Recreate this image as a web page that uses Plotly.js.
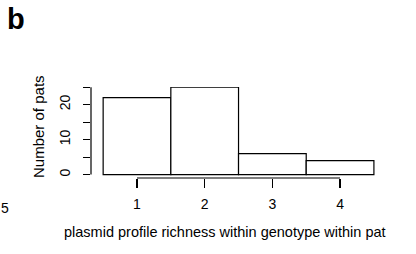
<!DOCTYPE html>
<html>
<head>
<meta charset="utf-8">
<script src="https://cdn.plot.ly/plotly-3.0.1.min.js"></script>
<style>html,body{margin:0;padding:0;background:#fff;}#chart{width:416px;height:254px;}</style>
</head>
<body>
<div id="chart"></div>
<script>
var richness = [1, 2, 3, 4];
var counts = [22, 25, 6, 4];
var yTickVals = [0, 5, 10, 15, 20, 25];
var yTickText = ['0', '', '10', '', '20', ''];
var xTickVals = [1, 2, 3, 4];
var xTickText = ['1', '2', '3', '4'];
var panelLabel = 'b';
var strayLabel = '5';
var xLabel = 'plasmid profile richness within genotype within pat';
var yLabel = 'Number of pats';

var font = 'Liberation Sans, Arial, sans-serif';
var M = {l: 91, r: 36, t: 87, b: 76};
var PW = 416 - M.l - M.r, PH = 254 - M.t - M.b;
function px(x) { return (x - M.l) / PW; }
function py(y) { return (254 - M.b - y) / PH; }

var trace = {
  type: 'bar',
  x: richness,
  y: counts,
  width: 1,
  marker: {color: '#ffffff', line: {color: '#000000', width: 1.2}},
  hoverinfo: 'none'
};

var layout = {
  width: 416, height: 254,
  margin: {l: M.l, r: M.r, t: M.t, b: M.b, pad: 0},
  paper_bgcolor: '#ffffff', plot_bgcolor: '#ffffff',
  showlegend: false,
  bargap: 0,
  font: {family: font, size: 15, color: '#000000'},
  xaxis: {
    range: [0.3205, 4.59],
    showgrid: false, zeroline: false, showline: false,
    tickmode: 'array', tickvals: xTickVals, ticktext: xTickText,
    ticks: 'outside', ticklen: 9, tickwidth: 1.2, tickcolor: '#000',
    ticklabelstandoff: 4,
    tickfont: {family: font, size: 14, color: '#000'}
  },
  yaxis: {
    range: [-0.971, 25.05],
    showgrid: false, zeroline: false, showline: false,
    tickmode: 'array', tickvals: yTickVals, ticktext: yTickText,
    ticks: 'outside', ticklen: 7, tickwidth: 1.2, tickcolor: '#000',
    tickangle: -90,
    ticklabelstandoff: 7,
    tickfont: {family: font, size: 14, color: '#000'}
  },
  shapes: [
    {type: 'line', xref: 'x', yref: 'paper', x0: xTickVals[0], x1: xTickVals[xTickVals.length - 1], y0: 0, y1: 0, line: {color: '#000', width: 1.2}},
    {type: 'line', xref: 'paper', yref: 'y', x0: 0, x1: 0, y0: yTickVals[0], y1: yTickVals[yTickVals.length - 1], line: {color: '#000', width: 1.2}}
  ],
  annotations: [
    {text: '<b>' + panelLabel + '</b>', xref: 'paper', yref: 'paper', x: px(16), y: py(19), xanchor: 'center', yanchor: 'middle', showarrow: false, font: {family: font, size: 29, color: '#000'}},
    {text: strayLabel, xref: 'paper', yref: 'paper', x: px(5), y: py(208), xanchor: 'center', yanchor: 'middle', showarrow: false, font: {family: font, size: 14, color: '#000'}},
    {text: xLabel, xref: 'paper', yref: 'paper', x: px(225), y: py(232), xanchor: 'center', yanchor: 'middle', showarrow: false, font: {family: font, size: 14.5, color: '#000'}},
    {text: yLabel, xref: 'paper', yref: 'paper', x: px(38), y: py(127), xanchor: 'center', yanchor: 'middle', textangle: -90, showarrow: false, font: {family: font, size: 15, color: '#000'}}
  ]
};

Plotly.newPlot('chart', [trace], layout, {displayModeBar: false, staticPlot: true});
</script>
</body>
</html>
